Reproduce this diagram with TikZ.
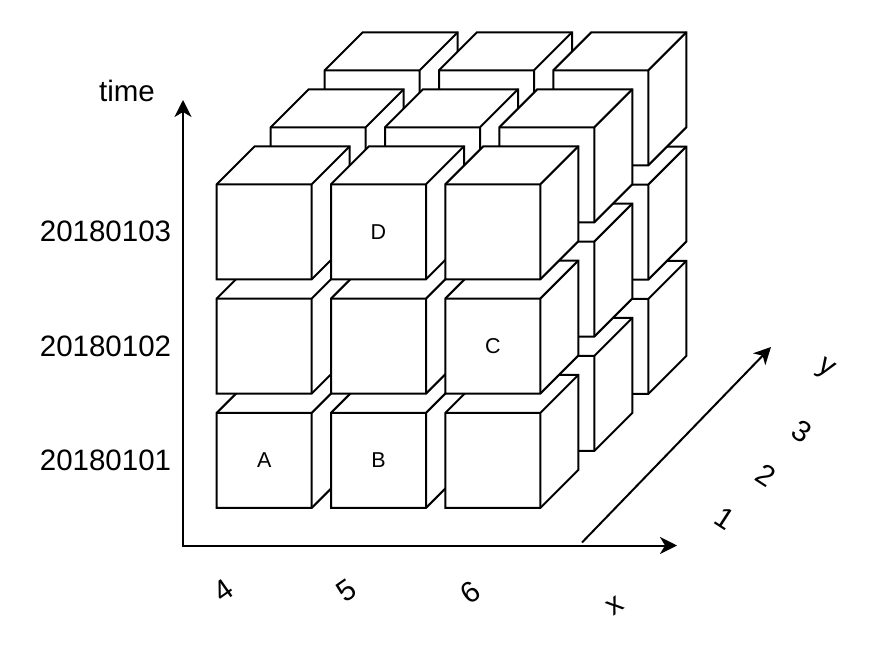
\documentclass[tikz,border=0pt]{standalone}
\usepackage{fontspec}
\setmainfont{Liberation Sans}
\usetikzlibrary{arrows.meta}

\tikzstyle{cubeline}=[draw,line width=2pt,fill=white,line join=miter]
\tikzstyle{cubeedge}=[draw,line width=2pt]
\tikzstyle{axis}=[draw,line width=2pt]
\tikzstyle{tick}=[font=\fontsize{29.5}{34}\selectfont,inner sep=0pt]
\tikzstyle{cell}=[font=\fontsize{21.5}{26}\selectfont,inner sep=0pt]
\newcommand{\datacube}[2]{%
  \path[cubeline] (#1,#2) -- ++(38,-38) -- ++(95,0) -- ++(0,95) -- ++(-38,38) -- ++(-95,0) -- cycle;
  \path[cubeedge] (#1,#2) -- ++(95,0) -- ++(38,-38) (#1+95,#2) -- ++(0,95);
}

\begin{document}
\begin{tikzpicture}[x=1pt, y=-1pt, >={Stealth[length=17pt,width=17pt,inset=5pt]}]
    \path[fill=white] (0,0) rectangle (888,658);
    \useasboundingbox (0,0) rectangle (888,658);
    % First we draw the cubes, back layer first
    \foreach \l in {2,1,0}
      \foreach \r in {2,1,0}
        \foreach \c in {0,1,2} {
          \pgfmathsetmacro{\X}{216.7+114.3*\c+54*\l}
          \pgfmathsetmacro{\Y}{184.3+114.3*\r-57*\l}
          \datacube{\X}{\Y}
        }
    % Letters on the front cubes
    \foreach \pos/\name/\lbl in {{(264.2,460.4)/A/A}, {(378.5,460.4)/B/B}, {(492.8,346.1)/C/C}, {(378.5,231.8)/D/D}}
        \node[cell] (\name) at \pos {\lbl};
    % Axes
    \coordinate (origin) at (183,545.5);
    \coordinate (timetip) at (183,100);
    \coordinate (xtip) at (677,545.5);
    \coordinate (ystart) at (582,542.5);
    \coordinate (ytip) at (771,347);
    \path[axis,<->] (timetip) -- (origin) -- (xtip);
    \path[axis,->] (ystart) -- (ytip);
    % Axis labels
    \node[tick] (time) at (127,90.5) {time};
    \foreach \ypos/\name/\lbl in {231.8/dayc/20180103, 346.1/dayb/20180102, 460.4/daya/20180101}
        \node[tick] (\name) at (105.5,\ypos) {\lbl};
    \foreach \pos/\name/\lbl in {{(223.3,590.7)/xfour/4}, {(346.7,590.7)/xfive/5}, {(470.7,592.7)/xsix/6}, {(615,606)/xname/x}}
        \node[tick,rotate=35] (\name) at \pos {\lbl};
    \foreach \pos/\name/\lbl in {{(725,518.3)/yone/1}, {(766,475)/ytwo/2}, {(801.7,431.7)/ythree/3}, {(825.7,369.3)/yname/y}}
        \node[tick,rotate=-33] (\name) at \pos {\lbl};
\end{tikzpicture}
\end{document}
